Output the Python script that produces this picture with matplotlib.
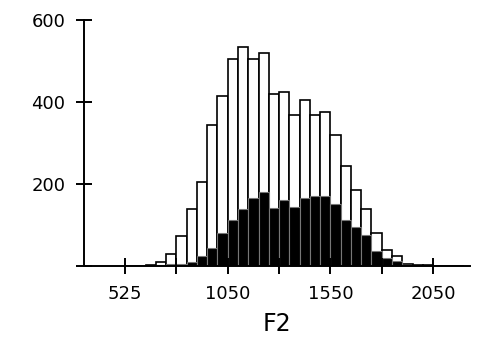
import numpy as np
import matplotlib
matplotlib.use("Agg")
import matplotlib.pyplot as plt

# histogram bins (left edges), width 50
bin_left = [550, 600, 650, 700, 750, 800, 850, 900, 950, 1000, 1050, 1100, 1150,
            1200, 1250, 1300, 1350, 1400, 1450, 1500, 1550, 1600, 1650, 1700,
            1750, 1800, 1850, 1900, 1950, 2000, 2050, 2100, 2150]
total = [1, 1, 2, 10, 29, 74, 139, 205, 344, 415, 504, 535, 504,
         519, 419, 424, 369, 405, 369, 375, 320, 244, 185, 139,
         80, 39, 24, 6, 3, 2, 1, 1, 1]
subset = [0, 0, 0, 2, 6, 5, 10, 25, 45, 81, 111, 140, 165,
          180, 141, 161, 145, 166, 171, 171, 151, 111, 96, 76,
          37, 20, 11, 2, 1, 0, 0, 0, 0]
bin_width = 50

xtick_pos = [550, 800, 1050, 1300, 1550, 1800, 2050]
xtick_lab = ['525', '', '1050', '', '1550', '', '2050']
ytick_pos = [0, 200, 400, 600]
ytick_lab = ['', '200', '400', '600']

fig = plt.figure(figsize=(4.79, 3.37), dpi=100)
ax = fig.add_axes([84 / 479, 71 / 337, 386 / 479, 246 / 337])

ax.bar(bin_left, total, width=bin_width, align='edge',
       facecolor='white', edgecolor='black', linewidth=1.2)
ax.bar(bin_left, subset, width=bin_width, align='edge',
       facecolor='black', edgecolor='#777777', linewidth=0.8)

ax.set_xlim(350, 2230)
ax.set_ylim(0, 600)

for s in ['top', 'right']:
    ax.spines[s].set_visible(False)
for s in ['left', 'bottom']:
    ax.spines[s].set_linewidth(1.4)
    ax.spines[s].set_clip_on(False)

ax.set_xticks(xtick_pos)
ax.set_xticklabels(xtick_lab)
ax.set_yticks(ytick_pos)
ax.set_yticklabels(ytick_lab)
ax.tick_params(direction='inout', length=11, width=1.4, labelsize=13, pad=8)

ax.set_xlabel('F2', fontsize=17, labelpad=7)

fig.savefig('out.png', dpi=100)
